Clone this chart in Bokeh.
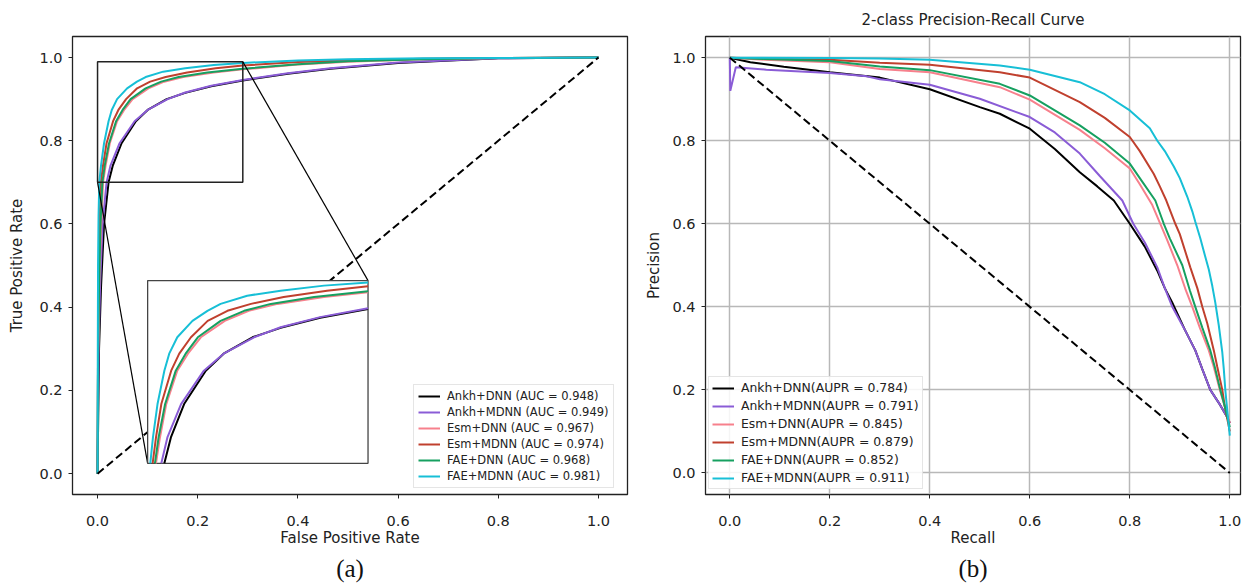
import numpy as np
from bokeh.plotting import figure
from bokeh.layouts import row
from bokeh.models import (Range1d, FixedTicker, NumeralTickFormatter, Legend,
                          LegendItem, Title)
from bokeh.embed import file_html
from bokeh.resources import INLINE

# ---------------- data ----------------
TICKS = [0.0, 0.2, 0.4, 0.6, 0.8, 1.0]
MODELS = ["Ankh+DNN", "Ankh+MDNN", "Esm+DNN", "Esm+MDNN", "FAE+DNN", "FAE+MDNN"]
AUC = [0.948, 0.949, 0.967, 0.974, 0.968, 0.981]
AUPR = [0.784, 0.791, 0.845, 0.879, 0.852, 0.911]
COLORS = ["#000000", "#8a5cd6", "#f7808c", "#c0402e", "#16a060", "#17bfd6"]

# ROC curves (FPR, TPR)
fpr_ankh_dnn = [0, 0.003, 0.007, 0.013, 0.022, 0.0306, 0.048, 0.0765, 0.1, 0.138, 0.175, 0.227, 0.29, 0.38, 0.465, 0.6, 0.8, 1.0]
tpr_ankh_dnn = [0, 0.3, 0.45, 0.6, 0.70, 0.741, 0.794, 0.847, 0.874, 0.900, 0.915, 0.931, 0.945, 0.961, 0.973, 0.987, 0.998, 1.0]
fpr_ankh_mdnn = [0, 0.002, 0.005, 0.01, 0.018, 0.026, 0.044, 0.074, 0.1, 0.14, 0.175, 0.227, 0.29, 0.38, 0.465, 0.6, 0.8, 1.0]
tpr_ankh_mdnn = [0, 0.3, 0.45, 0.6, 0.70, 0.741, 0.794, 0.847, 0.874, 0.900, 0.916, 0.932, 0.946, 0.962, 0.974, 0.988, 0.998, 1.0]
fpr_esm_dnn = [0, 0.001, 0.003, 0.007, 0.011, 0.0162, 0.0245, 0.039, 0.053, 0.070, 0.1015, 0.133, 0.171, 0.232, 0.29, 0.4, 0.5, 0.65, 0.8, 1.0]
tpr_esm_dnn = [0, 0.27, 0.44, 0.59, 0.70, 0.741, 0.794, 0.847, 0.874, 0.900, 0.926, 0.942, 0.953, 0.964, 0.9716, 0.983, 0.990, 0.996, 0.999, 1.0]
fpr_esm_mdnn = [0, 0.001, 0.002, 0.004, 0.0066, 0.011, 0.018, 0.031, 0.0416, 0.057, 0.079, 0.105, 0.136, 0.179, 0.236, 0.29, 0.4, 0.5, 0.65, 0.8, 1.0]
tpr_esm_mdnn = [0, 0.3, 0.45, 0.6, 0.70, 0.741, 0.794, 0.847, 0.874, 0.900, 0.926, 0.942, 0.953, 0.964, 0.974, 0.981, 0.989, 0.993, 0.997, 0.999, 1.0]
fpr_fae_dnn = [0, 0.001, 0.003, 0.006, 0.0096, 0.0144, 0.023, 0.037, 0.050, 0.066, 0.096, 0.127, 0.162, 0.219, 0.29, 0.4, 0.5, 0.65, 0.8, 1.0]
tpr_fae_dnn = [0, 0.28, 0.45, 0.6, 0.70, 0.741, 0.794, 0.847, 0.874, 0.900, 0.926, 0.942, 0.953, 0.964, 0.973, 0.984, 0.991, 0.996, 0.999, 1.0]
fpr_fae_mdnn = [0, 0.0005, 0.001, 0.002, 0.0035, 0.007, 0.013, 0.022, 0.0284, 0.039, 0.059, 0.0787, 0.096, 0.131, 0.175, 0.232, 0.29, 0.4, 0.5, 0.65, 0.8, 1.0]
tpr_fae_mdnn = [0, 0.3, 0.5, 0.62, 0.70, 0.741, 0.794, 0.847, 0.874, 0.900, 0.926, 0.942, 0.953, 0.966, 0.974, 0.982, 0.987, 0.993, 0.996, 0.998, 0.999, 1.0]

# Precision-recall curves (Recall, Precision)
rec_ankh_dnn = [0, 0.041, 0.108, 0.2, 0.3, 0.4, 0.5, 0.54, 0.6, 0.65, 0.7, 0.735, 0.768, 0.8, 0.83, 0.855, 0.87, 0.885, 0.91, 0.931, 0.945, 0.961, 0.98, 0.995, 1.0]
prec_ankh_dnn = [1.0, 0.989, 0.978, 0.965, 0.952, 0.924, 0.881, 0.865, 0.829, 0.78, 0.724, 0.69, 0.656, 0.6, 0.545, 0.487, 0.445, 0.41, 0.345, 0.295, 0.25, 0.2, 0.165, 0.134, 0.12]
rec_ankh_mdnn = [0, 0.001, 0.012, 0.073, 0.2, 0.274, 0.3, 0.4, 0.5, 0.6, 0.65, 0.7, 0.74, 0.785, 0.807, 0.83, 0.855, 0.87, 0.885, 0.91, 0.931, 0.945, 0.961, 0.98, 0.995, 1.0]
prec_ankh_mdnn = [1.0, 0.92, 0.977, 0.971, 0.963, 0.955, 0.948, 0.935, 0.901, 0.857, 0.82, 0.769, 0.715, 0.656, 0.6, 0.555, 0.495, 0.445, 0.4, 0.345, 0.295, 0.25, 0.2, 0.165, 0.134, 0.12]
rec_esm_dnn = [0, 0.07, 0.2, 0.3, 0.4, 0.54, 0.6, 0.7, 0.75, 0.8, 0.82, 0.845, 0.861, 0.875, 0.895, 0.912, 0.925, 0.94, 0.958, 0.968, 0.98, 0.99, 1.0]
prec_esm_dnn = [1.0, 0.995, 0.989, 0.973, 0.965, 0.929, 0.899, 0.826, 0.782, 0.733, 0.695, 0.645, 0.6, 0.56, 0.5, 0.44, 0.4, 0.35, 0.295, 0.255, 0.2, 0.16, 0.12]
rec_esm_mdnn = [0, 0.07, 0.2, 0.3, 0.4, 0.54, 0.6, 0.7, 0.75, 0.8, 0.82, 0.848, 0.86, 0.873, 0.891, 0.9, 0.921, 0.935, 0.945, 0.955, 0.968, 0.975, 0.985, 0.99, 1.0]
prec_esm_mdnn = [1.0, 0.998, 0.995, 0.988, 0.983, 0.965, 0.952, 0.893, 0.855, 0.809, 0.775, 0.72, 0.69, 0.656, 0.6, 0.575, 0.495, 0.445, 0.4, 0.36, 0.295, 0.255, 0.2, 0.16, 0.1]
rec_fae_dnn = [0, 0.07, 0.2, 0.3, 0.4, 0.54, 0.6, 0.7, 0.75, 0.8, 0.82, 0.851, 0.868, 0.88, 0.905, 0.92, 0.931, 0.945, 0.961, 0.97, 0.981, 0.99, 1.0]
prec_fae_dnn = [1.0, 0.997, 0.992, 0.979, 0.970, 0.937, 0.909, 0.837, 0.795, 0.745, 0.71, 0.656, 0.6, 0.565, 0.5, 0.44, 0.4, 0.35, 0.295, 0.255, 0.2, 0.16, 0.11]
rec_fae_mdnn = [0, 0.2, 0.3, 0.4, 0.54, 0.6, 0.7, 0.75, 0.8, 0.84, 0.855, 0.87, 0.888, 0.9, 0.915, 0.925, 0.931, 0.941, 0.95, 0.958, 0.965, 0.971, 0.978, 0.985, 0.988, 0.991, 0.995, 1.0]
prec_fae_mdnn = [1.0, 0.999, 0.998, 0.995, 0.981, 0.971, 0.941, 0.912, 0.873, 0.83, 0.80, 0.775, 0.738, 0.71, 0.665, 0.63, 0.605, 0.565, 0.525, 0.49, 0.45, 0.41, 0.355, 0.29, 0.25, 0.2, 0.15, 0.09]

ROC = [(fpr_ankh_dnn, tpr_ankh_dnn), (fpr_ankh_mdnn, tpr_ankh_mdnn),
       (fpr_esm_dnn, tpr_esm_dnn), (fpr_esm_mdnn, tpr_esm_mdnn),
       (fpr_fae_dnn, tpr_fae_dnn), (fpr_fae_mdnn, tpr_fae_mdnn)]
PR = [(rec_ankh_dnn, prec_ankh_dnn), (rec_ankh_mdnn, prec_ankh_mdnn),
      (rec_esm_dnn, prec_esm_dnn), (rec_esm_mdnn, prec_esm_mdnn),
      (rec_fae_dnn, prec_fae_dnn), (rec_fae_mdnn, prec_fae_mdnn)]

# zoom window (data) and inset placement (in main-axis data coords)
ZOOM_X = (0.0, 0.29)
ZOOM_Y = (0.70, 0.99)
INSET_X = (0.10, 0.54)
INSET_Y = (0.025, 0.464)

# ---------------- helpers ----------------
def clip_polyline(xs, ys, xmin, xmax, ymin, ymax):
    px, py = [], []
    for i in range(len(xs) - 1):
        x0, y0, x1, y1 = xs[i], ys[i], xs[i + 1], ys[i + 1]
        dx, dy = x1 - x0, y1 - y0
        t0, t1 = 0.0, 1.0
        ok = True
        for pp, qq in ((-dx, x0 - xmin), (dx, xmax - x0), (-dy, y0 - ymin), (dy, ymax - y0)):
            if pp == 0:
                if qq < 0:
                    ok = False
                    break
            else:
                r = qq / pp
                if pp < 0:
                    if r > t1:
                        ok = False
                        break
                    t0 = max(t0, r)
                else:
                    if r < t0:
                        ok = False
                        break
                    t1 = min(t1, r)
        if not ok:
            continue
        a = (x0 + t0 * dx, y0 + t0 * dy)
        b = (x0 + t1 * dx, y0 + t1 * dy)
        if not px or (px[-1], py[-1]) != a:
            px.append(a[0]); py.append(a[1])
        px.append(b[0]); py.append(b[1])
    return px, py


def style(p):
    for ax in (p.xaxis[0], p.yaxis[0]):
        ax.ticker = FixedTicker(ticks=TICKS)
        ax.formatter = NumeralTickFormatter(format="0.0")
        ax.major_label_text_font = "DejaVu Sans"
        ax.major_label_text_font_size = "14.5px"
        ax.major_label_text_color = "#222222"
        ax.axis_label_text_font = "DejaVu Sans"
        ax.axis_label_text_font_style = "normal"
        ax.axis_label_text_font_size = "15px"
        ax.axis_label_text_color = "#222222"
        ax.axis_line_color = None
        ax.major_tick_out = 4
        ax.major_tick_in = 0
        ax.major_tick_line_color = "#222222"
        ax.major_tick_line_width = 1
        ax.minor_tick_line_color = None
    p.xaxis[0].major_label_standoff = 17
    p.xaxis[0].axis_label_standoff = 0
    p.yaxis[0].major_label_standoff = 6
    p.yaxis[0].axis_label_standoff = 10
    p.outline_line_color = "#222222"
    p.outline_line_width = 1.3
    p.outline_line_alpha = 1.0
    p.background_fill_color = "white"
    p.border_fill_color = "white"


def make_legend(items, loc, size, spacing, padding):
    lg = Legend(items=items, location=loc)
    lg.label_text_font = "DejaVu Sans"
    lg.label_text_font_size = size
    lg.label_text_color = "#222222"
    lg.label_height = 14
    lg.glyph_height = 14
    lg.glyph_width = 22
    lg.label_standoff = 7
    lg.spacing = spacing
    lg.padding = padding
    lg.margin = 0
    lg.border_line_color = "#cccccc"
    lg.border_line_width = 1
    lg.background_fill_alpha = 0.85
    return lg

# ---------------- (a) ROC ----------------
XR1 = (-0.05, 1.058)
YR1 = (-0.05, 1.0505)
p1 = figure(frame_width=555, frame_height=458, x_range=Range1d(*XR1), y_range=Range1d(*YR1),
            output_backend="svg", toolbar_location=None,
            min_border_left=72, min_border_right=13, min_border_top=36, min_border_bottom=82,
            x_axis_label="False Positive Rate", y_axis_label="True Positive Rate")
style(p1)
p1.grid.visible = False

def inset_range(main, inset, zoom):
    k = (zoom[1] - zoom[0]) / (inset[1] - inset[0])
    return Range1d(zoom[0] + (main[0] - inset[0]) * k, zoom[0] + (main[1] - inset[0]) * k)

p1.extra_x_ranges = {"zx": inset_range(XR1, INSET_X, ZOOM_X)}
p1.extra_y_ranges = {"zy": inset_range(YR1, INSET_Y, ZOOM_Y)}

items1 = []
for name, auc, col, (fx, ty) in zip(MODELS, AUC, COLORS, ROC):
    r = p1.line(fx, ty, line_color=col, line_width=2)
    items1.append(LegendItem(label=f"{name} (AUC = {auc:.3f})", renderers=[r]))

p1.line([0, 1], [0, 1], line_color="black", line_width=2, line_dash="8 4")

p1.quad(left=ZOOM_X[0], right=ZOOM_X[1], bottom=ZOOM_Y[0], top=ZOOM_Y[1],
        fill_color=None, line_color="#222222", line_width=1.5)
p1.segment(x0=[ZOOM_X[0], ZOOM_X[1]], y0=[ZOOM_Y[0], ZOOM_Y[1]],
           x1=[INSET_X[0], INSET_X[1]], y1=[INSET_Y[0], INSET_Y[1]],
           line_color="black", line_width=1.2)
p1.quad(left=ZOOM_X[0], right=ZOOM_X[1], bottom=ZOOM_Y[0], top=ZOOM_Y[1],
        x_range_name="zx", y_range_name="zy",
        fill_color="white", line_color="#444444", line_width=1.3)
for col, (fx, ty) in zip(COLORS, ROC):
    cx, cy = clip_polyline(fx, ty, ZOOM_X[0], ZOOM_X[1], ZOOM_Y[0], ZOOM_Y[1])
    p1.line(cx, cy, x_range_name="zx", y_range_name="zy", line_color=col, line_width=2)

p1.add_layout(make_legend(items1, (341, 6), "11.5px", 2, 4))
p1.add_layout(Title(text="(a)", align="center", text_font="Liberation Serif",
                    text_font_size="25px", text_font_style="normal", text_color="#111111",
                    standoff=6), "below")

# ---------------- (b) PR ----------------
p2 = figure(frame_width=535, frame_height=458, x_range=Range1d(-0.0486, 1.0214),
            y_range=Range1d(-0.052, 1.051),
            output_backend="svg", toolbar_location=None,
            min_border_left=65, min_border_right=2, min_border_top=36, min_border_bottom=82,
            x_axis_label="Recall", y_axis_label="Precision",
            title="2-class Precision-Recall Curve")
style(p2)
p2.yaxis[0].axis_label_standoff = 6
p2.title.align = "center"
p2.title.text_font = "DejaVu Sans"
p2.title.text_font_size = "15px"
p2.title.text_font_style = "normal"
p2.title.text_color = "#222222"
p2.title.standoff = 16
p2.grid.grid_line_color = "#b8b8b8"
p2.grid.grid_line_width = 1.5

items2 = []
for name, ap, col, (rx, py_) in zip(MODELS, AUPR, COLORS, PR):
    r = p2.line(rx, py_, line_color=col, line_width=2)
    items2.append(LegendItem(label=f"{name}(AUPR = {ap:.3f})", renderers=[r]))
p2.line([0, 1], [1, 0], line_color="black", line_width=2, line_dash="8 4")
p2.add_layout(make_legend(items2, (3, 5), "12.4px", 3, 3))
p2.add_layout(Title(text="(b)", align="center", text_font="Liberation Serif",
                    text_font_size="25px", text_font_style="normal", text_color="#111111",
                    standoff=6), "below")

layout = row(p1, p2)
open("out.html", "w").write(file_html(layout, INLINE))
